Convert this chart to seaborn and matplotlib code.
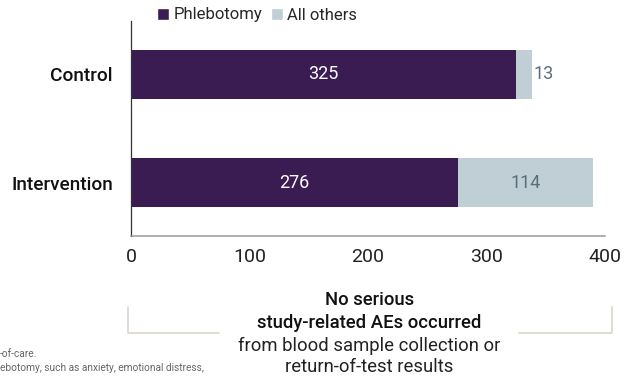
import matplotlib
matplotlib.use("Agg")
import matplotlib.pyplot as plt
from matplotlib.lines import Line2D
from matplotlib.patches import Patch
import seaborn as sns
import pandas as pd

groups = ["Control", "Intervention"]
phlebotomy = [325, 276]
all_others = [13, 114]
x_ticks = [0, 100, 200, 300, 400]

PURPLE = "#3b1c52"
GREY = "#c0cfd6"
SLATE = "#5b6f7a"
BRACKET = "#dcd5c8"

sns.set_theme(style="white")
plt.rcParams["font.family"] = ["Roboto", "DejaVu Sans"]

df = pd.DataFrame({
    "group": groups,
    "phlebotomy": phlebotomy,
    "others": all_others,
})
df["total"] = df["phlebotomy"] + df["others"]

W, H = 628.0, 380.0
def fx(px):
    return px / W
def fy(py):
    return 1 - py / H

fig = plt.figure(figsize=(6.28, 3.8), dpi=100)
ax = fig.add_axes([fx(131), fy(236), (605 - 131) / W, (236 - 21) / H])

# stacked bars: total first (light), phlebotomy drawn over it
sns.barplot(data=df, y="group", x="total", orient="h", color=GREY,
            width=0.454, saturation=1, linewidth=0, ax=ax)
sns.barplot(data=df, y="group", x="phlebotomy", orient="h", color=PURPLE,
            width=0.454, saturation=1, linewidth=0, ax=ax)

ax.set_xlim(0, 400)
ax.set_ylim(1.495, -0.495)
ax.set_xticks(x_ticks)
ax.set_xticklabels([str(t) for t in x_ticks], fontsize=14, color="#222222")
ax.set_xlabel("")
ax.set_ylabel("")
ax.tick_params(axis="x", length=0, pad=9)
ax.tick_params(axis="y", length=0, pad=13)
for lbl in ax.get_yticklabels():
    lbl.set_fontsize(13.7)
    lbl.set_fontweight("medium")
    lbl.set_color("#111111")

for side in ["top", "right"]:
    ax.spines[side].set_visible(False)
ax.spines["left"].set_color("#333333")
ax.spines["left"].set_linewidth(0.9)
ax.spines["bottom"].set_color("#9a9a9a")
ax.spines["bottom"].set_linewidth(1.1)

# value labels
for i, (p, o) in enumerate(zip(phlebotomy, all_others)):
    ax.text(p / 2, i, str(p), ha="center", va="center", fontsize=13,
            color="white")
    if o < 40:
        ax.text(p + o + 2, i, str(o), ha="left", va="center", fontsize=13,
                color=SLATE)
    else:
        ax.text(p + o / 2, i, str(o), ha="center", va="center", fontsize=13,
                color=SLATE)

# legend above the plot
handles = [Patch(facecolor=PURPLE, label="Phlebotomy"),
           Patch(facecolor=GREY, label="All others")]
fig.legend(handles=handles, loc="center", bbox_to_anchor=(fx(257), fy(15)),
           ncol=2, frameon=False, fontsize=12, handlelength=0.75,
           handleheight=0.75, handletextpad=0.25, columnspacing=0.5,
           borderpad=0)

# callout below the axis
fig.add_artist(Line2D([fx(128), fx(128), fx(219)], [fy(307), fy(333), fy(333)],
                      color=BRACKET, lw=1.2, transform=fig.transFigure))
fig.add_artist(Line2D([fx(519), fx(612), fx(612)], [fy(333), fy(333), fy(307)],
                      color=BRACKET, lw=1.2, transform=fig.transFigure))

cx = fx(369.5)
fig.text(cx, fy(300), "No serious", ha="center", va="center", fontsize=13.3,
         fontweight="medium", color="#111111")
fig.text(cx, fy(323), "study-related AEs occurred", ha="center", va="center",
         fontsize=13.3, fontweight="medium", color="#111111")
fig.text(cx, fy(346), "from blood sample collection or", ha="center",
         va="center", fontsize=13.3, color="#222222")
fig.text(cx, fy(367), "return-of-test results", ha="center", va="center",
         fontsize=13.3, color="#222222")

# footnotes
fig.text(0.0, fy(354), "-of-care.", ha="left", va="center", fontsize=7.3,
         color="#666666")
fig.text(0.0, fy(368), "ebotomy, such as anxiety, emotional distress,",
         ha="left", va="center", fontsize=7.3, color="#666666")

fig.savefig("out.png", dpi=100)
